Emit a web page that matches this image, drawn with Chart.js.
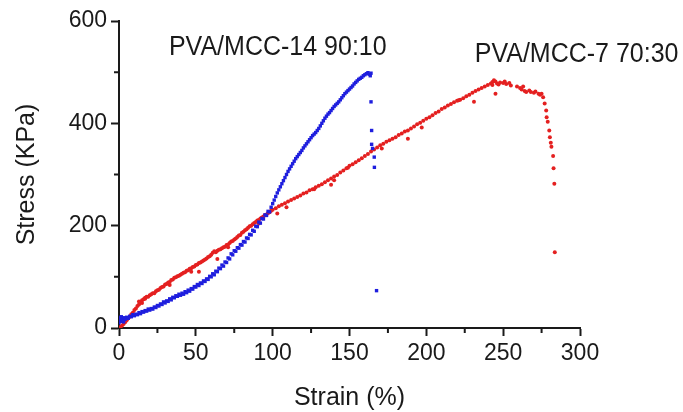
<!DOCTYPE html>
<html>
<head>
<meta charset="utf-8">
<script src="https://cdn.jsdelivr.net/npm/chart.js@4.4.1/dist/chart.umd.min.js"></script>
<style>
  html, body { margin: 0; padding: 0; background: #fff; }
  #chart { display: block; }
</style>
</head>
<body>
<canvas id="chart" width="683" height="412"></canvas>
<script>
// PVA/MCC-14 90:10 (blue)
const blueStrain = [0,0,0.5,1,1,1.5,2,2.5,3,3.5,4,5,6,7,8,9,10,11,12,13,14,15,16,17,18,19,20,21,22,23,24,25,26,27,28,29,30,31,32,33,34,35,36,37,38,39,40,41,42,43,44,45,46,47,48,49,50,51,52,53,54,55,56,57,58,59,60,61,62,63,64,65,66,67,68,69,70,71,72,73,74,75,76,77,78,79,80,81,82,83,84,85,86,87,88,89,90,91,92,93,94,95,96,97,98,
  99,100,101,102,103,104,105,106,107,108,109,110,111,112,113,114,115,116,117,118,119,120,121,122,123,124,125,126,127,128,129,130,131,132,133,134,135,136,137,138,139,140,141,142,143,144,145,146,147,148,149,150,151,152,153,154,155,156,157,158,159,160,161,162,163,163.5,164,
  164,164.4,164.4,165,166.1,166.2,167.6];
const blueStress = [10,16,20,13,18,22,15,19,12,20,17,21,19,23,22,26,24,27,26,30,28,32,31,34,33,37,35,38,37,41,40,44,43,47,46,51,49,53,52,57,55,60,59,63,62,66,64,68,66,71,69,74,72,77,76,81,80,85,83,88,87,92,91,96,95,101,100,106,104,111,110,117,116,123,121,129,128,137,135,145,143,151,150,157,156,163,162,169,168,176,175,183,182,191,189,199,198,207,205,214,213,221,220,228,227,
  236,243,250,257,264,270,276,282,288,294,300,306,311,316,321,326,331,335,339,343,347,352,356,360,364,368,372,376,379,382,386,390,395,400,405,410,414,418,421,425,429,433,436,439,442,446,450,454,458,461,464,467,470,473,477,480,483,486,488,490,493,495,497,499,496,493,498,
  442,386,359,351,334,314,73];

// PVA/MCC-7 70:30 (red)
const redStrain = [0,1,2,3,4,5,6,7,8,9,10,11,12,13,14,15,16,17,18,19,20,21,22,23,24,25,26,27,28,29,30,31,32,33,34,35,36,37,38,39,40,41,42,43,44,45,46,47,48,49,50,51,52,53,54,55,56,57,58,59,60,61,62,63,64,65,66,67,68,69,70,71,72,73,74,75,76,77,78,79,80,81,82,83,84,85,86,87,88,89,90,91,92,93,94,95,96,97,98,99,100,
  102,104,106,108,110,112,114,116,118,120,122,124,126,128,130,132,134,136,138,140,142,144,146,148,150,152,154,156,158,160,162,164,166,168,170,172,174,176,178,180,182,184,186,188,190,192,194,196,198,200,202,204,206,208,210,212,214,216,218,220,222,224,226,228,230,232,234,236,238,240,242,243,244,245,246,247,248,250,251,252,254,255,259,261,262,264,265,267,268,270,271,273,274,275,276,
  277,278,278.3,279,280,280.4,281,281.4,282.5,282.8,283.3,283.6,
  52,64,103,138,140,188,231,245,
  13,15,17,33,47,71,91,109,127,149,171,197,221,243,263];
const redStress = [0,2,5,8,11,15,19,22,27,30,35,38,43,46,50,54,56,59,61,61,64,66,68,68,72,74,75,78,80,81,85,86,89,90,94,95,98,99,101,102,104,106,108,109,112,113,116,117,119,120,123,124,127,128,130,132,134,136,139,140,143,147,150,148,151,153,154,156,158,159,162,163,166,169,170,173,175,178,181,182,186,188,191,193,196,199,200,203,205,207,210,211,214,216,218,221,222,225,226,229,231,
  234,238,241,244,247,250,253,256,259,263,265,269,271,275,278,281,285,289,292,296,299,304,308,312,317,320,324,328,332,336,340,345,349,353,357,360,364,367,370,373,377,380,384,386,390,394,398,401,405,409,412,416,420,423,428,431,435,438,441,444,446,449,453,456,460,463,466,469,472,475,478,481,484,482,478,476,480,479,482,477,479,474,472,469,466,463,461,464,461,460,462,458,456,458,451,
  439,425,412,403,386,373,362,354,336,312,282,148,
  110,135,224,280,289,370,442,458,
  52,49,57,84,110,158,204,236,271,313,351,392,445,475,472];

const xTicks = [0, 50, 100, 150, 200, 250, 300];
const yTicks = [0, 200, 400, 600];
const xMinor = [25, 75, 125, 175, 225, 275];
const yMinor = [100, 300, 500];

const notes = [
  { text: 'PVA/MCC-14 90:10', x: 32.5, y: 533 },
  { text: 'PVA/MCC-7 70:30', x: 231.5, y: 520 }
];

const toPoints = (xs, ys) => xs.map((x, i) => ({ x: x, y: ys[i] }));

const font = 'Liberation Sans, Arial, sans-serif';
const ink = '#1a1a1a';

// minor ticks + text notes
const extras = {
  id: 'extras',
  afterDraw(chart) {
    const ctx = chart.ctx;
    const xs = chart.scales.x, ys = chart.scales.y;
    const area = chart.chartArea;
    ctx.save();
    ctx.strokeStyle = ink;
    ctx.lineWidth = 2;
    ctx.beginPath();
    xMinor.forEach(v => {
      const px = xs.getPixelForValue(v);
      ctx.moveTo(px, area.bottom);
      ctx.lineTo(px, area.bottom + 5);
    });
    yMinor.forEach(v => {
      const py = ys.getPixelForValue(v);
      ctx.moveTo(area.left, py);
      ctx.lineTo(area.left - 5, py);
    });
    ctx.stroke();

    ctx.fillStyle = ink;
    ctx.font = '25px ' + font;
    ctx.textBaseline = 'alphabetic';
    ctx.textAlign = 'left';
    notes.forEach(n => {
      const px = xs.getPixelForValue(n.x), py = ys.getPixelForValue(n.y);
      ctx.save();
      ctx.translate(px, py);
      ctx.scale(1, 1.08);
      ctx.fillText(n.text, 0, 0);
      ctx.restore();
    });
    ctx.restore();
  }
};

new Chart(document.getElementById('chart'), {
  type: 'scatter',
  data: {
    datasets: [
      {
        label: 'PVA/MCC-14 90:10',
        data: toPoints(blueStrain, blueStress),
        pointStyle: 'rect',
        pointRadius: 2.4,
        backgroundColor: '#1e1ede',
        borderColor: '#1e1ede',
        borderWidth: 0
      },
      {
        label: 'PVA/MCC-7 70:30',
        data: toPoints(redStrain, redStress),
        pointStyle: 'circle',
        pointRadius: 2,
        backgroundColor: '#e42020',
        borderColor: '#e42020',
        borderWidth: 0
      }
    ]
  },
  options: {
    responsive: false,
    animation: false,
    devicePixelRatio: 1,
    layout: { padding: { top: 21, right: 103, left: 0, bottom: 0 } },
    plugins: { legend: { display: false }, tooltip: { enabled: false } },
    scales: {
      x: {
        type: 'linear',
        min: 0,
        max: 300,
        afterBuildTicks: s => { s.ticks = xTicks.map(v => ({ value: v })); },
        afterFit: s => { s.height = 84; },
        ticks: { font: { size: 23, family: font }, color: ink, padding: 4, maxRotation: 0, autoSkip: false },
        grid: { drawOnChartArea: false, tickLength: 8, tickWidth: 2, tickColor: ink },
        border: { width: 2, color: ink },
        title: { display: true, text: 'Strain (%)', color: ink, font: { size: 25, family: font, lineHeight: 1.1 }, padding: 0 }
      },
      y: {
        type: 'linear',
        min: 0,
        max: 600,
        afterBuildTicks: s => { s.ticks = yTicks.map(v => ({ value: v })); },
        afterFit: s => { s.width = 119; },
        ticks: { font: { size: 23, family: font }, color: ink, padding: 4 },
        grid: { drawOnChartArea: false, tickLength: 8, tickWidth: 2, tickColor: ink },
        border: { width: 2, color: ink },
        title: { display: true, text: 'Stress (KPa)', color: ink, font: { size: 25, family: font, lineHeight: 1.2 }, padding: { top: 12, bottom: 0 } }
      }
    }
  },
  plugins: [extras]
});
</script>
</body>
</html>
